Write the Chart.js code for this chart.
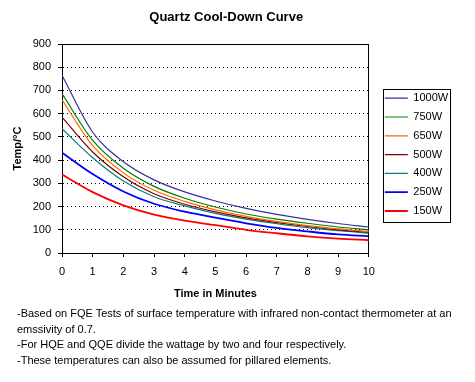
<!DOCTYPE html>
<html><head><meta charset="utf-8">
<script src="https://cdn.jsdelivr.net/npm/chart.js@4/dist/chart.umd.min.js"></script>
<style>
html,body{margin:0;padding:0;background:#fff;}
#wrap{position:relative;width:475px;height:382px;overflow:hidden;}
canvas{position:absolute;left:0;top:0;}
#notes{position:absolute;left:17px;top:306px;font:11px "Liberation Sans",Arial,sans-serif;line-height:15.6px;color:#000;white-space:nowrap;}
</style></head><body>
<div id="wrap"><canvas id="c" width="475" height="382"></canvas>
<div id="notes">-Based on FQE Tests of surface temperature with infrared non-contact thermometer at an<br>emssivity of 0.7.<br>-For HQE and QQE divide the wattage by two and four respectively.<br>-These temperatures can also be assumed for pillared elements.</div></div>
<script>
const minutes = [0,1,2,3,4,5,6,7,8,9,10];
const yTicks = [0,100,200,300,400,500,600,700,800,900];
const seriesNames = ['1000W','750W','650W','500W','400W','250W','150W'];
const w1000 = [765,520,393,315,263,224,192,166,145,127,112];
const w750  = [686,485,365,287,236,198,168,146,128,112,100];
const w650  = [660,462,345,270,222,186,158,136,118,104,93];
const w500  = [585,435,328,255,210,177,151,131,114,100,89];
const w400  = [535,410,310,242,203,171,146,126,109,96,86];
const w250  = [432,340,265,212,178,152,128,108,93,80,72];
const w150  = [338,262,205,165,139,120,100,85,72,62,55];
const seriesValues = [w1000,w750,w650,w500,w400,w250,w150];
const seriesColors = ['#333399','#008000','#FF6600','#800000','#008080','#0000FF','#FF0000'];
const seriesWidths = [1.2,1.2,1.2,1.2,1.2,1.8,1.8];

Chart.defaults.font.family = "'Liberation Sans', Arial, sans-serif";
Chart.defaults.color = '#000';

const datasets = seriesNames.map((n,i)=>({
  label: n,
  data: minutes.map((m,j)=>({x:m,y:seriesValues[i][j]})),
  borderColor: seriesColors[i],
  backgroundColor: seriesColors[i],
  borderWidth: seriesWidths[i],
  pointRadius: 0,
  pointStyle: 'line',
  fill: false,
  cubicInterpolationMode: 'monotone'
}));

const legendBorder = {
  id: 'legendBorder',
  afterDraw(chart){
    const hb = chart.legend.legendHitBoxes;
    if(!hb || !hb.length) return;
    const ctx = chart.ctx;
    const left = Math.round(hb[0].left) - 2;
    const right = left + 67;
    const top = Math.round(hb[0].top + 5.5 - 9.7);
    const bottom = Math.round(hb[hb.length-1].top + 5.5 + 10.7);
    ctx.save();
    ctx.strokeStyle = '#000';
    ctx.lineWidth = 1;
    ctx.strokeRect(left+0.5, top+0.5, right-left, bottom-top);
    ctx.restore();
  }
};

const chart = new Chart(document.getElementById('c'), {
  type: 'line',
  data: { datasets },
  plugins: [legendBorder],
  options: {
    responsive: false,
    animation: false,
    devicePixelRatio: 1,
    layout: { padding: { left: 0, right: 17.6, top: 0, bottom: 80 } },
    plugins: {
      title: {
        display: true,
        text: 'Quartz Cool-Down Curve',
        font: { size: 13, weight: 'bold' },
        color: '#000',
        padding: { top: 9.2, bottom: 19.2 }
      },
      legend: {
        display: true,
        position: 'right',
        align: 'center',
        title: { display: true, text: '', font: { size: 6 }, padding: 0 },
        labels: {
          usePointStyle: true,
          pointStyleWidth: 23,
          font: { size: 11 },
          color: '#000',
          padding: 7.8
        }
      },
      tooltip: { enabled: false }
    },
    scales: {
      x: {
        type: 'linear',
        min: 0, max: 10,
        ticks: { stepSize: 1, font: { size: 11 }, color: '#000', padding: 8 },
        grid: {
          drawOnChartArea: true,
          color: ctx => (ctx.tick && ctx.tick.value === 10) ? '#000' : 'rgba(0,0,0,0)',
          tickColor: '#000',
          tickLength: 4,
          lineWidth: 1
        },
        border: { display: true, color: '#000', width: 1 },
        title: { display: true, text: 'Time in Minutes', font: { size: 11, weight: 'bold' }, color: '#000', padding: { top: 0, bottom: 1.4 } },
        afterFit: s => { s.height = 49; }
      },
      y: {
        type: 'linear',
        min: 0, max: 900,
        afterBuildTicks: s => { s.ticks = yTicks.map(v => ({ value: v })); },
        ticks: { font: { size: 11 }, color: '#000', padding: 7 },
        grid: {
          color: '#000',
          tickColor: '#000',
          tickLength: 4,
          lineWidth: 1
        },
        border: {
          display: true, color: '#000', width: 1,
          dash: ctx => (ctx.type === 'tick' && ctx.tick && ctx.tick.value !== 900 && ctx.tick.value !== 0) ? [1,3] : []
        },
        title: { display: true, text: 'Temp/°C', font: { size: 11, weight: 'bold' }, color: '#000', padding: { top: 11.4, bottom: 0 } },
        afterFit: s => { s.width = 62; }
      },
      gap: {
        type: 'linear',
        position: 'right',
        display: true,
        ticks: { display: false },
        grid: { display: false, drawTicks: false },
        border: { display: false },
        afterFit: s => { s.width = 8.2; }
      }
    }
  }
});
const lw = chart.legend.width;
chart.options.layout.padding.right = 475 - 368 - 8.2 - lw;
chart.update();
</script>
</body></html>
